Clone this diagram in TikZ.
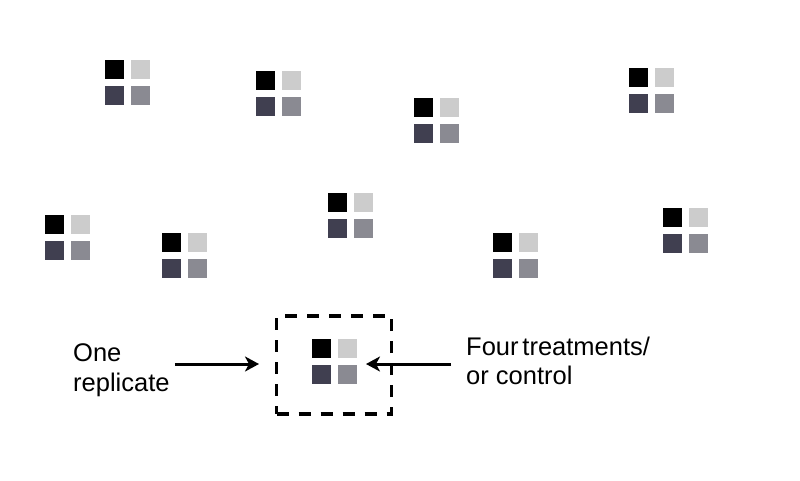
\documentclass[tikz,border=0pt]{standalone}
\usepackage{fontspec}
\setmainfont{Liberation Sans}
\usetikzlibrary{
  arrows.meta,
  positioning
}
\definecolor{trtA}{HTML}{000000}
\definecolor{trtB}{HTML}{CCCCCC}
\definecolor{trtC}{HTML}{403F50}
\definecolor{trtD}{HTML}{8A8A92}
\tikzset{
  sq/.style={draw=none,inner sep=0pt,minimum size=19pt},
  lbl/.style={inner sep=0pt,align=left,anchor=north west,
    font=\fontsize{25.5}{29.5}\selectfont},
  arrowline/.style={line width=3pt,-{Stealth[length=14pt,width=15pt,inset=4pt]}}
}
% one plot: four squares, #1 name, #2 centre of the black square
\newcommand{\plotquad}[2]{%
  \node[sq,fill=trtA] (#1-a) at (#2) {};
  \node[sq,fill=trtB,right=7pt of #1-a] (#1-b) {};
  \node[sq,fill=trtC,below=7pt of #1-a] (#1-c) {};
  \node[sq,fill=trtD,right=7pt of #1-c] (#1-d) {};
}

\begin{document}
\begin{tikzpicture}[x=1pt,y=-1pt]
    %initialisation
    \useasboundingbox[fill=white] (0,0) rectangle (800,480);
    %definitions
    \plotquad{p1}{114.5,69.5}
    \plotquad{p2}{265.5,80.5}
    \plotquad{p3}{423,107.5}
    \plotquad{p4}{638,77}
    \plotquad{p5}{54.5,224}
    \plotquad{p6}{171,242.5}
    \plotquad{p7}{337,202}
    \plotquad{p8}{502,242.5}
    \plotquad{p9}{672,217}
    \plotquad{p10}{321.5,348.5}
    %the replicate box
    \node[draw,line width=3.5pt,dash pattern=on 12pt off 10pt,
      minimum width=115pt,minimum height=98pt] (replicate) at (334,365) {};
    \coordinate (lefttip) at (259,364);
    \coordinate (righttip) at (366,364);
    %labels
    \node[lbl] (onelbl) at (73,343.5) {One\\replicate};
    \node[lbl] (trtlbl) at (466,336.5) {Four\hspace{0.15em}treatments/\\or control};
    \draw[arrowline] ([xshift=5pt]onelbl.east |- lefttip) -- (lefttip);
    \draw[arrowline] ([xshift=-15pt]trtlbl.west |- righttip) -- (righttip);
\end{tikzpicture}
\end{document}
